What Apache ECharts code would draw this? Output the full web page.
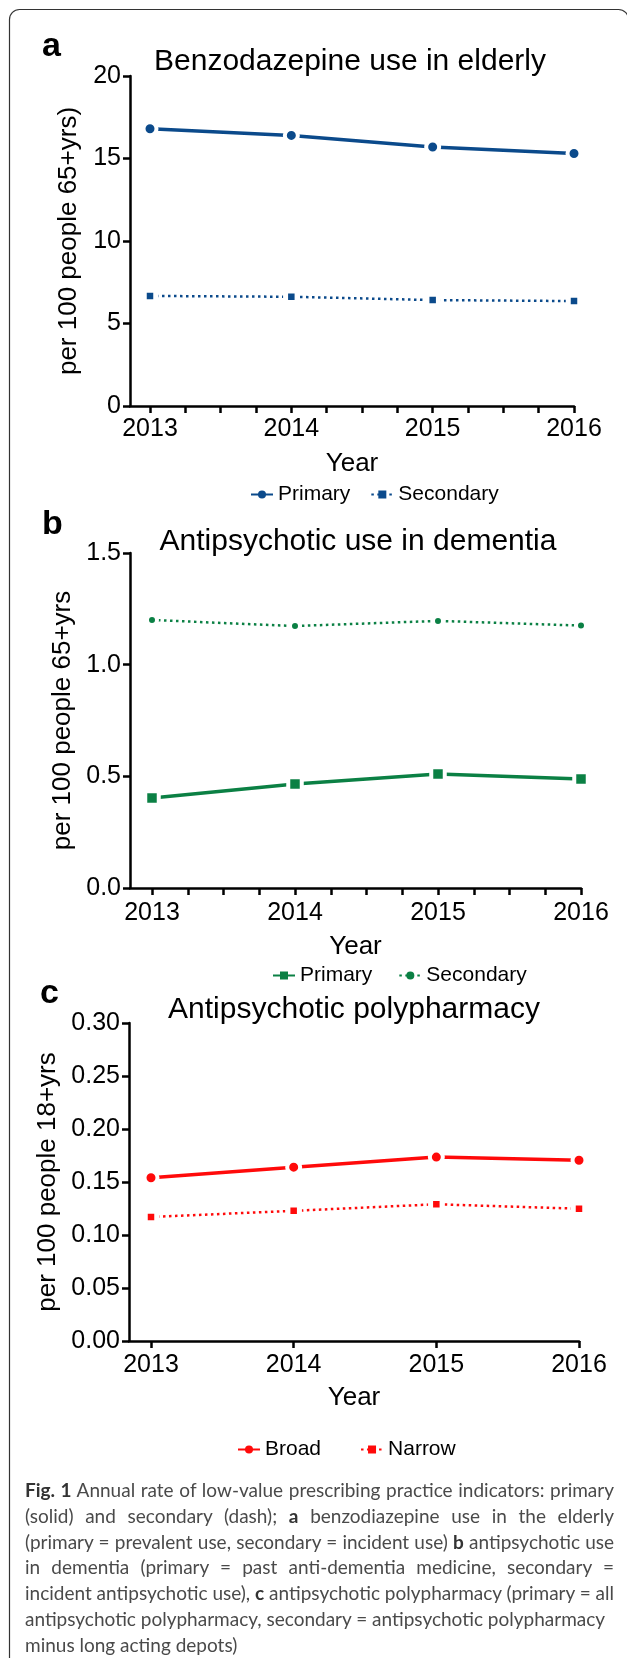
<!DOCTYPE html>
<html lang="en">
<head>
<meta charset="UTF-8">
<title>Annual rate of low-value prescribing practice indicators</title>
<script src="https://cdn.jsdelivr.net/npm/echarts@6/dist/echarts.min.js"></script>
<style>
  html, body { margin: 0; padding: 0; background: #fff; }
  #wrap { position: relative; width: 627px; height: 1658px; overflow: hidden; }
  #chart { position: absolute; left: 0; top: 0; width: 627px; height: 1658px; }
  #caption { position: absolute; left: 25px; top: 1477px; width: 589px;
    font-family: Lato, 'Open Sans', sans-serif; font-size: 19px; color: #4a4a4a; }
  #caption div { white-space: nowrap; height: 25.8px; line-height: 25.8px; }
  #caption div.j { text-align: justify; text-align-last: justify; }
  #caption b { color: #333; }
</style>
</head>
<body>
<div id="wrap">
  <div id="chart"></div>
  <div id="caption">
    <div class="j"><b>Fig. 1</b> Annual rate of low-value prescribing practice indicators: primary</div>
    <div class="j">(solid) and secondary (dash); <b>a</b> benzodiazepine use in the elderly</div>
    <div class="j">(primary = prevalent use, secondary = incident use) <b>b</b> antipsychotic use</div>
    <div class="j">in dementia (primary = past anti-dementia medicine, secondary =</div>
    <div class="j">incident antipsychotic use), <b>c</b> antipsychotic polypharmacy (primary = all</div>
    <div>antipsychotic polypharmacy, secondary = antipsychotic polypharmacy</div>
    <div>minus long acting depots)</div>
  </div>
</div>

<script type="text/javascript">
  // data
  var years = [2013, 2014, 2015, 2016];

  // a: benzodiazepine use in elderly
  var benzoPrimary   = [16.8, 16.4, 15.7, 15.3];
  var benzoSecondary = [6.67, 6.62, 6.42, 6.36];
  // b: antipsychotic use in dementia
  var dementiaPrimary   = [0.403, 0.466, 0.510, 0.488];
  var dementiaSecondary = [1.200, 1.173, 1.196, 1.175];
  // c: antipsychotic polypharmacy
  var polyBroad  = [0.154, 0.164, 0.1735, 0.1705];
  var polyNarrow = [0.117, 0.1228, 0.129, 0.1248];

  var BLUE = '#0b4a8b', GREEN = '#0b8044', RED = '#ff0a0a';
  var FONT = "'Liberation Sans', Arial, sans-serif";

  function pairs(vals) {
    return vals.map(function (v, i) { return [years[i], v]; });
  }

  var black = { color: '#000', width: 2.5 };

  // each panel has a "frame" grid (axis lines, y labels, axis names) whose left edge is the
  // y axis, and a "data" grid starting at 2013 that carries the year ticks and the series
  function frameX(idx, nameGap) {
    return {
      type: 'value', gridIndex: idx, min: 0, max: 1,
      axisLine: { show: true, onZero: false, lineStyle: black },
      axisTick: { show: false }, axisLabel: { show: false }, splitLine: { show: false },
      name: 'Year', nameLocation: 'middle', nameGap: nameGap,
      nameTextStyle: { fontSize: 26, color: '#000', fontFamily: FONT }
    };
  }

  function dataX(idx, minor, labelMargin) {
    return {
      type: 'value', gridIndex: idx, min: 2013, max: 2016, interval: 1,
      axisLine: { show: false, onZero: false },
      axisTick: { show: true, length: 7, lineStyle: black },
      minorTick: { show: minor, splitNumber: 4, length: 7, lineStyle: black },
      axisLabel: { fontSize: 25, color: '#000', margin: labelMargin, fontFamily: FONT,
        showMinLabel: true, showMaxLabel: true,
        formatter: function (v) { return String(Math.round(v)); } },
      splitLine: { show: false }
    };
  }

  function frameY(idx, max, interval, digits, name, nameGap) {
    return {
      type: 'value', gridIndex: idx, min: 0, max: max, interval: interval,
      axisLine: { show: true, onZero: false, lineStyle: black },
      axisTick: { show: true, length: 7, lineStyle: black },
      axisLabel: { fontSize: 25, color: '#000', margin: 9, fontFamily: FONT,
        formatter: function (v) { return v.toFixed(digits); } },
      splitLine: { show: false },
      name: name, nameLocation: 'middle', nameRotate: 90, nameGap: nameGap,
      nameTextStyle: { fontSize: 26, color: '#000', fontFamily: FONT }
    };
  }

  function dataY(idx, max) {
    return { type: 'value', gridIndex: idx, min: 0, max: max, show: false };
  }

  function solid(name, idx, vals, color, symbol, size) {
    return {
      name: name, type: 'line', xAxisIndex: idx, yAxisIndex: idx, data: pairs(vals),
      symbol: symbol, symbolSize: size, z: 3,
      lineStyle: { color: color, width: 3.5 },
      itemStyle: { color: color, borderColor: '#fff', borderWidth: 4 }
    };
  }

  function dotted(name, idx, vals, color, symbol, size, border) {
    return {
      name: name, type: 'line', xAxisIndex: idx, yAxisIndex: idx, data: pairs(vals),
      symbol: symbol, symbolSize: size, z: 2,
      lineStyle: { color: color, width: 2.5, type: [2.5, 3.5] },
      itemStyle: { color: color, borderColor: '#fff', borderWidth: border }
    };
  }

  function legend(names, left, top, gap) {
    return {
      data: names, left: left, top: top, itemGap: gap, itemWidth: 22, itemHeight: 10,
      padding: 0, selectedMode: false,
      itemStyle: { borderWidth: 0 },
      textStyle: { fontSize: 21, color: '#000', fontFamily: FONT },
      formatter: function (n) { return n.split('|')[1]; }
    };
  }

  var titleStyle = { fontSize: 30, fontWeight: 'normal', color: '#000', fontFamily: FONT };
  var letterFont = "bold 34px 'Liberation Sans', Arial, sans-serif";

  var myChart = echarts.init(document.getElementById('chart'));
  myChart.setOption({
    animation: false,
    backgroundColor: '#fff',
    textStyle: { fontFamily: FONT },
    title: [
      { text: 'Benzodazepine use in elderly', left: 350, top: 47, textAlign: 'center', padding: 0, textStyle: titleStyle },
      { text: 'Antipsychotic use in dementia', left: 358, top: 527, textAlign: 'center', padding: 0, textStyle: titleStyle },
      { text: 'Antipsychotic polypharmacy', left: 354, top: 995, textAlign: 'center', padding: 0, textStyle: titleStyle }
    ],
    grid: [
      // frames
      { left: 130, top: 76, width: 444, height: 330 },
      { left: 130, top: 553, width: 451, height: 335 },
      { left: 129, top: 1023, width: 450, height: 318 },
      // data areas (2013 .. 2016)
      { left: 150, top: 76, width: 424, height: 330 },
      { left: 152, top: 553, width: 429, height: 335 },
      { left: 151, top: 1023, width: 428, height: 318 }
    ],
    xAxis: [
      frameX(0, 45), frameX(1, 46), frameX(2, 44),
      dataX(3, true, 10.5), dataX(4, true, 12.5), dataX(5, false, 11.5)
    ],
    yAxis: [
      frameY(0, 20, 5, 0, 'per 100 people 65+yrs)', 47),
      frameY(1, 1.5, 0.5, 1, 'per 100 people 65+yrs', 53),
      frameY(2, 0.3, 0.05, 2, 'per 100 people 18+yrs', 67),
      dataY(3, 20), dataY(4, 1.5), dataY(5, 0.3)
    ],
    legend: [
      legend(['a|Primary', 'a|Secondary'], 250, 484, 20),
      legend(['b|Primary', 'b|Secondary'], 272, 965, 26),
      legend(['c|Broad', 'c|Narrow'], 237, 1439, 39)
    ],
    series: [
      solid('a|Primary', 3, benzoPrimary, BLUE, 'circle', 13),
      dotted('a|Secondary', 3, benzoSecondary, BLUE, 'rect', 11.5, 5),
      solid('b|Primary', 4, dementiaPrimary, GREEN, 'rect', 13.5),
      dotted('b|Secondary', 4, dementiaSecondary, GREEN, 'circle', 10, 4),
      solid('c|Broad', 5, polyBroad, RED, 'circle', 13),
      dotted('c|Narrow', 5, polyNarrow, RED, 'rect', 11.5, 5)
    ],
    graphic: [
      { type: 'rect', shape: { x: 9.5, y: 9.5, width: 619, height: 1660, r: 10 }, silent: true,
        style: { fill: 'none', stroke: '#333', lineWidth: 1.2 } },
      { type: 'text', x: 42, y: 47, silent: true,
        style: { text: 'a', font: letterFont, fill: '#000', verticalAlign: 'middle' } },
      { type: 'text', x: 42, y: 525, silent: true,
        style: { text: 'b', font: letterFont, fill: '#000', verticalAlign: 'middle' } },
      { type: 'text', x: 40, y: 994, silent: true,
        style: { text: 'c', font: letterFont, fill: '#000', verticalAlign: 'middle' } }
    ]
  });
</script>
</body>
</html>
